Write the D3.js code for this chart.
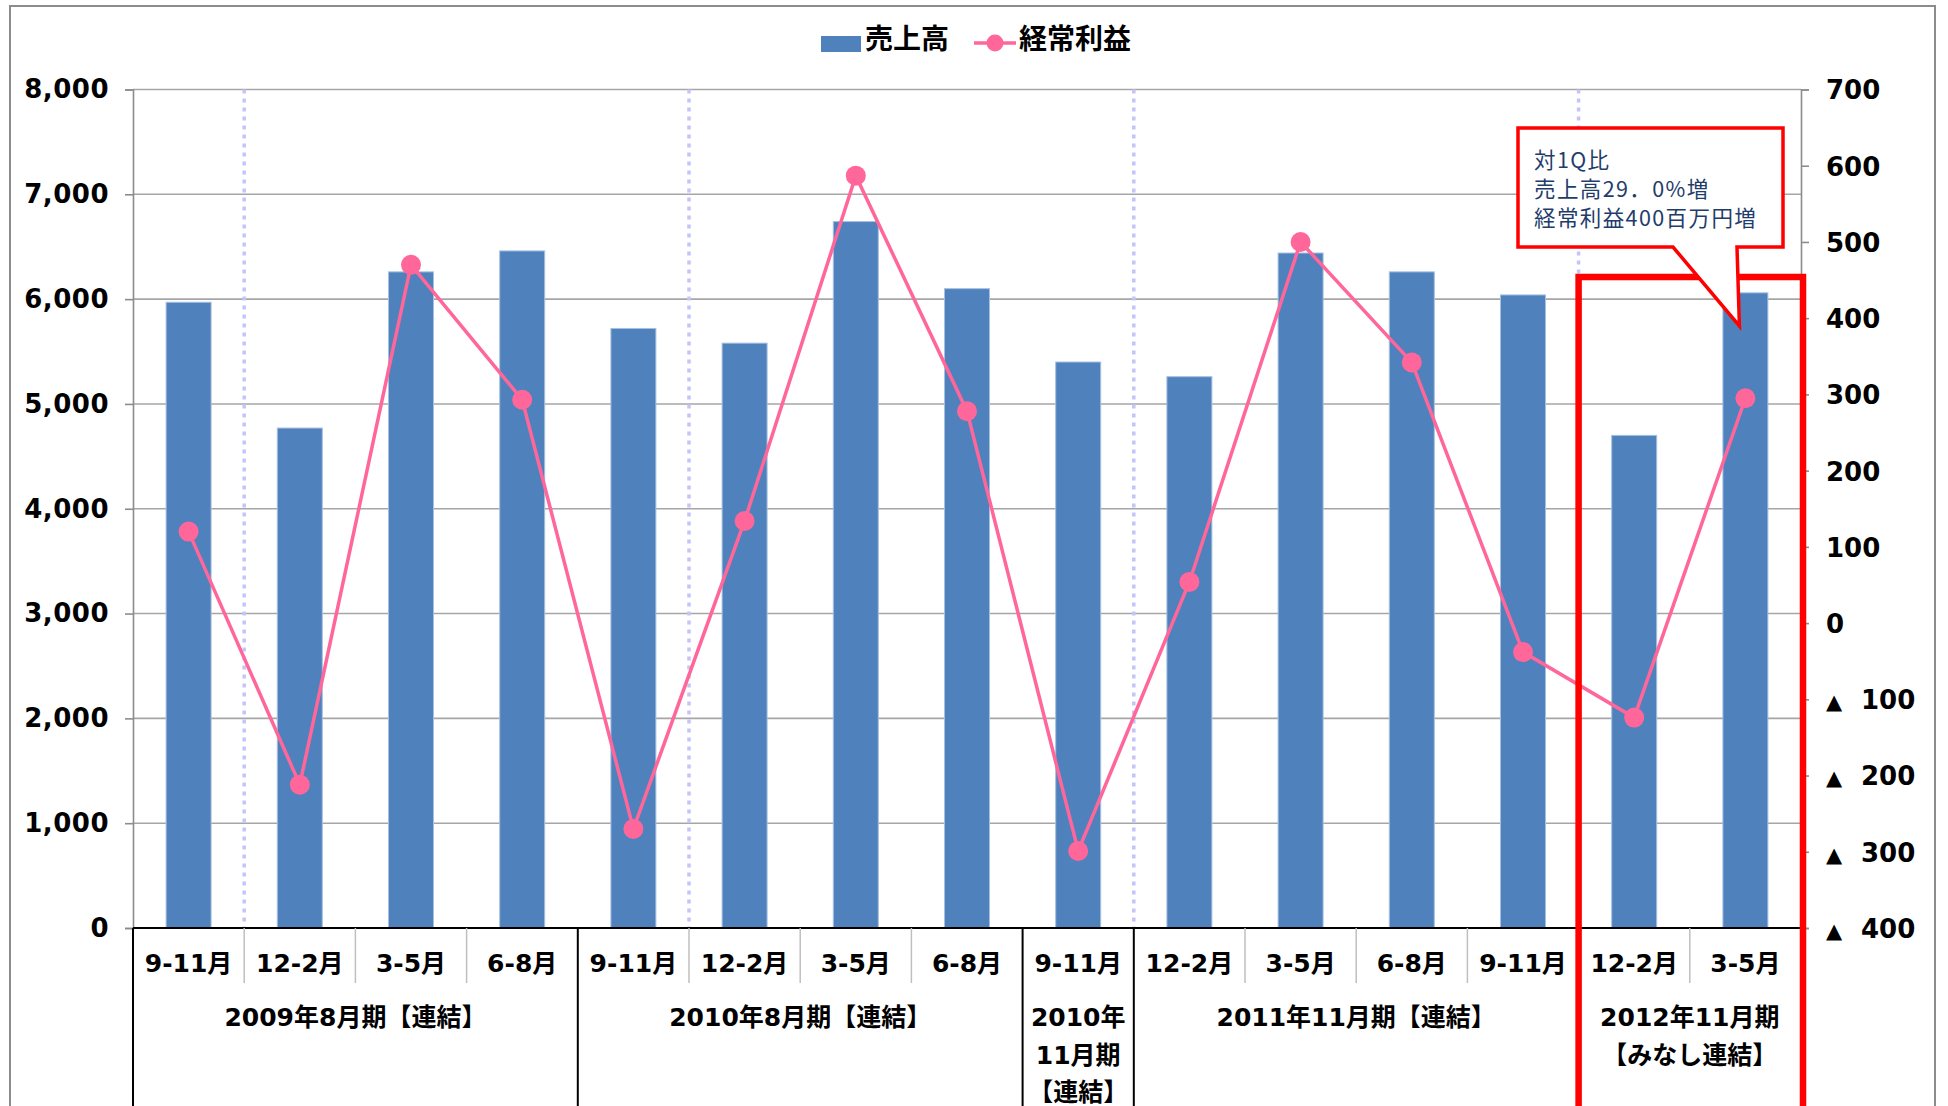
<!DOCTYPE html>
<html><head><meta charset="utf-8">
<script src="https://cdn.jsdelivr.net/npm/d3@7"></script>
<style>
html,body{margin:0;padding:0;background:#fff;}
svg{display:block;}
</style></head>
<body>
<script>
// ---- data ----
const categories = ["9-11月","12-2月","3-5月","6-8月","9-11月","12-2月","3-5月","6-8月","9-11月","12-2月","3-5月","6-8月","9-11月","12-2月","3-5月"];
const sales  = [5970, 4770, 6260, 6460, 5720, 5580, 6740, 6100, 5400, 5260, 6440, 6260, 6040, 4700, 6060];
const profit = [120, -212, 470, 293, -270, 134, 587, 278, -299, 54, 500, 342, -38, -124, 295];
const groupLabels = [["2009年8月期【連結】"],["2010年8月期【連結】"],["2010年","11月期","【連結】"],["2011年11月期【連結】"],["2012年11月期","【みなし連結】"]];
const groupCounts = [4, 4, 1, 4, 2];
const separatorIdx = [1, 5, 9, 13];
const leftTicks = [0,1000,2000,3000,4000,5000,6000,7000,8000];
const rightTicks = [-400,-300,-200,-100,0,100,200,300,400,500,600,700];
const seriesNames = ["売上高","経常利益"];
const calloutLines = ["対1Q比","売上高29．0%増","経常利益400百万円増"];

const W = 1948, H = 1106;
const L = 133, R = 1801, T = 89.5, B = 928;
const BLUE = "#4f81bd", PINK = "#ff6699";

const svg = d3.select("body").append("svg").attr("width", W).attr("height", H);

// outer frame
svg.append("rect").attr("x",10).attr("y",6).attr("width",1925).attr("height",H+20)
  .attr("fill","#fff").attr("stroke","#8c8c8c").attr("stroke-width",2);

const pIn = 1 - 45/((R-L)/categories.length);
const x = d3.scaleBand().domain(d3.range(categories.length)).range([L,R]).paddingInner(pIn).paddingOuter(pIn/2);
const step = x.step();
const bx = i => L + i*step;
const yL = d3.scaleLinear().domain([0,8000]).range([B,T]);
const yR = d3.scaleLinear().domain([-400,700]).range([B,T]);

// gridlines
svg.append("g").selectAll("line").data(leftTicks.slice(1)).join("line")
  .attr("x1",L).attr("x2",R).attr("y1",d=>yL(d)).attr("y2",d=>yL(d))
  .attr("stroke","#a6a6a6").attr("stroke-width",1.6);

// dotted separators
svg.append("g").selectAll("line").data(separatorIdx).join("line")
  .attr("x1",d=>bx(d)).attr("x2",d=>bx(d)).attr("y1",T).attr("y2",B)
  .attr("stroke","#c4c4fa").attr("stroke-width",3.5).attr("stroke-dasharray","4,5");

// left axis
const gl = svg.append("g").attr("transform",`translate(${L},0)`)
  .call(d3.axisLeft(yL).tickValues(leftTicks).tickSize(8).tickPadding(16).tickFormat(d3.format(",")));
gl.select(".domain").attr("stroke","#8c8c8c").attr("stroke-width",1.6);
gl.selectAll(".tick line").attr("stroke","#8c8c8c").attr("stroke-width",1.6);
gl.selectAll(".tick text").attr("font-family","DejaVu Sans").attr("font-weight","bold")
  .attr("font-size",26).attr("fill","#000").attr("letter-spacing",0.5);

// right axis
const gr = svg.append("g").attr("transform",`translate(${R},0)`)
  .call(d3.axisRight(yR).tickValues(rightTicks).tickSize(8).tickFormat(""));
gr.select(".domain").attr("stroke","#8c8c8c").attr("stroke-width",1.6);
gr.selectAll(".tick line").attr("stroke","#8c8c8c").attr("stroke-width",1.6);
gr.selectAll(".tick").each(function(d){
  const t = d3.select(this).append("text").attr("font-family","DejaVu Sans").attr("font-weight","bold")
    .attr("font-size",26).attr("fill","#000").attr("dy","0.36em");
  if (d < 0) {
    t.append("tspan").attr("x",25).attr("font-size",21).text("▲");
    t.append("tspan").attr("x",60).text(Math.abs(d));
  } else {
    t.append("tspan").attr("x",25).text(d);
  }
});

// bars
svg.append("g").selectAll("rect").data(sales).join("rect")
  .attr("x",(d,i)=>x(i)).attr("width",x.bandwidth())
  .attr("y",d=>yL(d)).attr("height",d=>B-yL(d))
  .attr("fill",BLUE).attr("stroke","#a7c0e0").attr("stroke-width",1);

// line
const line = d3.line().x((d,i)=>x(i)+x.bandwidth()/2).y(d=>yR(d));
svg.append("path").datum(profit).attr("d",line).attr("fill","none")
  .attr("stroke",PINK).attr("stroke-width",3.5);
svg.append("g").selectAll("circle").data(profit).join("circle")
  .attr("cx",(d,i)=>x(i)+x.bandwidth()/2).attr("cy",d=>yR(d)).attr("r",10).attr("fill",PINK);

// baseline
svg.append("line").attr("x1",L).attr("x2",R).attr("y1",B).attr("y2",B).attr("stroke","#000").attr("stroke-width",2);

// category axis separators
const bounds = [0]; groupCounts.forEach(c=>bounds.push(bounds[bounds.length-1]+c));
const inner = d3.range(1,categories.length).filter(i=>!bounds.includes(i));
svg.append("g").selectAll("line").data(inner).join("line")
  .attr("x1",d=>bx(d)).attr("x2",d=>bx(d)).attr("y1",B).attr("y2",983)
  .attr("stroke","#bfbfbf").attr("stroke-width",1.5);
svg.append("g").selectAll("line").data(bounds.slice(0,-1)).join("line")
  .attr("x1",d=>bx(d)).attr("x2",d=>bx(d)).attr("y1",B).attr("y2",H)
  .attr("stroke","#000").attr("stroke-width",2);

const catFont = "'DejaVu Sans','Noto Sans CJK JP',sans-serif";
svg.append("g").selectAll("text").data(categories).join("text")
  .attr("x",(d,i)=>x(i)+x.bandwidth()/2).attr("y",963).attr("dy","0.36em")
  .attr("text-anchor","middle").attr("font-family",catFont).attr("font-weight","bold")
  .attr("font-size",25).attr("fill","#000").text(d=>d);

groupLabels.forEach((lines,gi)=>{
  const cx = (bx(bounds[gi]) + bx(bounds[gi+1]))/2;
  const t = svg.append("text").attr("text-anchor","middle").attr("font-family",catFont)
    .attr("font-weight","bold").attr("font-size",25).attr("fill","#000");
  lines.forEach((s,li)=>{
    t.append("tspan").attr("x",cx).attr("y",1017+li*37.5).attr("dy","0.36em").text(s);
  });
});

// red highlight rectangle
svg.append("rect").attr("x",bx(13)).attr("y",277).attr("width",1803-bx(13)).attr("height",H)
  .attr("fill","none").attr("stroke","#ff0000").attr("stroke-width",6.5);

// callout
const tipX = x(14)+x.bandwidth()/2 - 6;
const cb = {x0:1518, y0:128, x1:1783, y1:247};
const cpath = `M${cb.x0},${cb.y0} L${cb.x1},${cb.y0} L${cb.x1},${cb.y1} L1737,${cb.y1} L${tipX},326 L1673,${cb.y1} L${cb.x0},${cb.y1} Z`;
svg.append("path").attr("d",cpath).attr("fill","#fff").attr("stroke","#ff0000").attr("stroke-width",3.5).attr("stroke-linejoin","miter");
calloutLines.forEach((s,i)=>svg.append("text").attr("x",1534).attr("y",168+i*29)
  .attr("font-family","'Noto Sans CJK JP',sans-serif").attr("font-size",21.5).attr("letter-spacing",1.4)
  .attr("fill","#1f3d6b").text(s));

// legend
const lg = svg.append("g");
lg.append("rect").attr("x",821).attr("y",36).attr("width",40).attr("height",16).attr("fill",BLUE);
lg.append("text").attr("x",865).attr("y",39).attr("dy","0.36em").attr("font-family","'Noto Sans CJK JP',sans-serif")
  .attr("font-weight","bold").attr("font-size",28).attr("fill","#000").text(seriesNames[0]);
lg.append("line").attr("x1",974).attr("x2",1016).attr("y1",43).attr("y2",43).attr("stroke",PINK).attr("stroke-width",3.5);
lg.append("circle").attr("cx",995).attr("cy",43).attr("r",8.5).attr("fill",PINK);
lg.append("text").attr("x",1019).attr("y",39).attr("dy","0.36em").attr("font-family","'Noto Sans CJK JP',sans-serif")
  .attr("font-weight","bold").attr("font-size",28).attr("fill","#000").text(seriesNames[1]);
</script>
</body></html>
